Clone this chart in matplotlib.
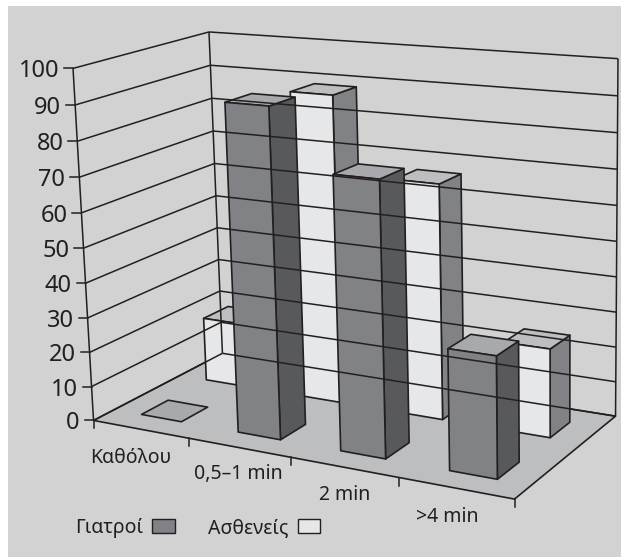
# Pseudo 3D column chart, doctors and patients

import numpy as np
import matplotlib
matplotlib.use('Agg')
import matplotlib.pyplot as plt

categories = ['Καθόλου', '0,5–1 min', '2 min', '>4 min']
doctors = [0, 92, 75.5, 33]
patients = [19, 89, 67, 25]
yticks = [0, 10, 20, 30, 40, 50, 60, 70, 80, 90, 100]

plt.rcParams['font.family'] = ['Noto Sans', 'DejaVu Sans']

W, H = 621, 557
BG = '#d2d2d3'
LINE = '#231f20'

fig = plt.figure(figsize=(W / 100, H / 100), dpi=100, facecolor='white')
ax = fig.add_axes([0, 0, 1, 1])
ax.set_xlim(0, W)
ax.set_ylim(H, 0)
ax.axis('off')
ax.fill([8, W, W, 8], [6, 6, H, H], color=BG, lw=0)

# Camera fit: box corners (category, depth, value) -> picture pixels
corners = [((0, 0, 0), (94, 420)), ((4, 0, 0), (514, 500)),
           ((0, 1, 0), (222, 354)), ((4, 1, 0), (616, 415)),
           ((0, 0, 100), (73, 68)), ((0, 1, 100), (209, 32)),
           ((4, 1, 100), (618, 59))]
rows = []
rhs = []
for (x, y, z), (u, v) in corners:
    rows.append([x, y, z, 1, 0, 0, 0, 0, -u * x, -u * y, -u * z])
    rows.append([0, 0, 0, 0, x, y, z, 1, -v * x, -v * y, -v * z])
    rhs += [u, v]
cam = np.linalg.lstsq(np.array(rows, float), np.array(rhs, float), rcond=None)[0]
cam = np.append(cam, 1).reshape(3, 4)


def proj(x, y, z):
    p = cam @ np.array([x, y, z, 1.0])
    return p[0] / p[2], p[1] / p[2]


def face(pts, color):
    xy = np.array([proj(*p) for p in pts])
    ax.fill(xy[:, 0], xy[:, 1], facecolor=color, edgecolor=LINE, lw=1.2, joinstyle='round')


def seg(a, b, lw=1.1):
    xy = np.array([proj(*a), proj(*b)])
    ax.plot(xy[:, 0], xy[:, 1], color=LINE, lw=lw, solid_capstyle='butt')


# Floor and walls
face([(0, 0, 0), (4, 0, 0), (4, 1, 0), (0, 1, 0)], '#bcbec0')
for z in yticks:
    seg((0, 0, z), (0, 1, z))
    seg((0, 1, z), (4, 1, z))
seg((0, 0, 0), (0, 0, 100))
seg((0, 1, 0), (0, 1, 100))
seg((4, 1, 0), (4, 1, 100))

# Ticks
for z in yticks:
    u, v = proj(0, 0, z)
    ax.plot([u - 9, u], [v, v], color=LINE, lw=1.1)
    ax.text(u - 14, v, str(z), ha='right', va='center_baseline', fontsize=17, color=LINE)
for i in range(5):
    u, v = proj(i, 0, 0)
    ax.plot([u, u], [v, v + 8], color=LINE, lw=1.1)

BAR_W = 0.42


def bar(i, d0, d1, val, front, side, top):
    x0 = i + 0.5 - BAR_W / 2
    x1 = i + 0.5 + BAR_W / 2
    if val == 0:
        face([(x0, d0, 0), (x1, d0, 0), (x1, d1, 0), (x0, d1, 0)], top)
        return
    face([(x1, d0, 0), (x1, d1, 0), (x1, d1, val), (x1, d0, val)], side)
    face([(x0, d0, val), (x1, d0, val), (x1, d1, val), (x0, d1, val)], top)
    face([(x0, d0, 0), (x1, d0, 0), (x1, d0, val), (x0, d0, val)], front)


# Back row first, then the front row on top of it
for i, val in enumerate(patients):
    bar(i, 0.65, 0.85, val, '#e6e7e8', '#808285', '#bcbec0')
for i, val in enumerate(doctors):
    bar(i, 0.15, 0.35, val, '#808285', '#58595b', '#a7a9ac')

# Category labels sit below the front edge
label_pos = [(131, 463), (238, 479), (345, 500), (447, 522)]
for name, (u, v) in zip(categories, label_pos):
    ax.text(u, v, name, ha='center', va='baseline', fontsize=14, color=LINE)

# Legend
ax.text(75, 533, 'Γιατροί', ha='left', va='baseline', fontsize=14, color=LINE)
ax.fill([152, 175, 175, 152], [519, 519, 533, 533], facecolor='#808285', edgecolor=LINE, lw=1)
ax.text(208, 533, 'Ασθενείς', ha='left', va='baseline', fontsize=14, color=LINE)
ax.fill([298, 320, 320, 298], [519, 519, 533, 533], facecolor='#e6e7e8', edgecolor=LINE, lw=1)

fig.savefig('out.png', dpi=100, facecolor='white')
